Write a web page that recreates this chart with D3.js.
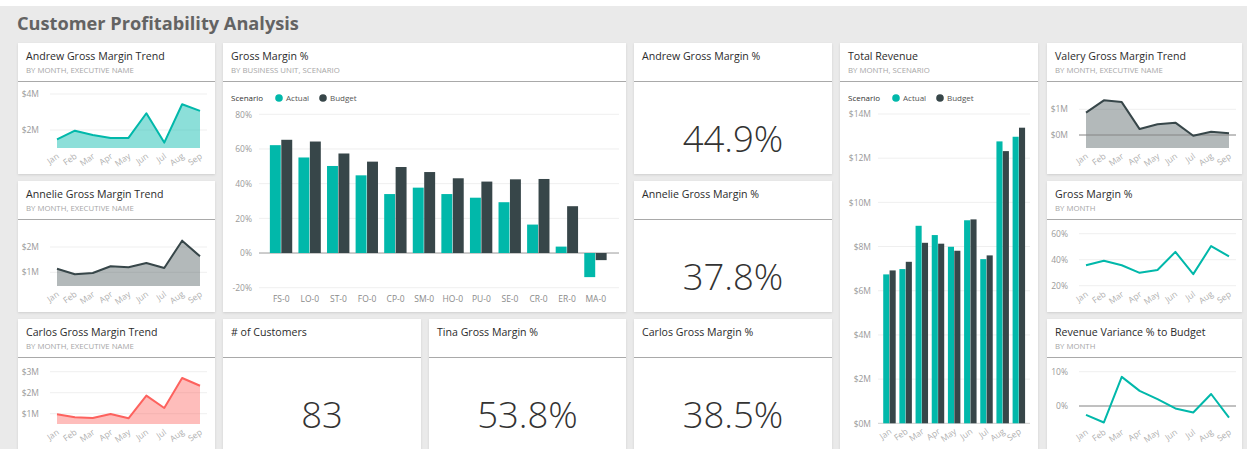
<!DOCTYPE html>
<html>
<head>
<meta charset="utf-8">
<script src="https://cdn.jsdelivr.net/npm/d3@7"></script>
<style>
  body { margin: 0; background: #fff; overflow: hidden; }
  text { font-family: "Open Sans", "Noto Sans", sans-serif; }
</style>
</head>
<body>
<div id="wrapper"></div>
<script>
// data
const months = ["Jan", "Feb", "Mar", "Apr", "May", "Jun", "Jul", "Aug", "Sep"]

// gross margin trend per executive, $M
const andrewGM = [1.48, 1.96, 1.72, 1.56, 1.56, 2.93, 1.30, 3.43, 3.06]
const annelieGM = [1.14, 0.92, 0.97, 1.24, 1.20, 1.37, 1.17, 2.25, 1.63]
const carlosGM = [0.97, 0.83, 0.80, 0.99, 0.78, 1.86, 1.27, 2.70, 2.33]
const valeryGM = [0.87, 1.35, 1.28, 0.23, 0.42, 0.48, -0.03, 0.13, 0.07]

// gross margin % by business unit
const units = ["FS-0", "LO-0", "ST-0", "FO-0", "CP-0", "SM-0", "HO-0", "PU-0", "SE-0", "CR-0", "ER-0", "MA-0"]
const unitActual = [62.2, 55.1, 50.2, 44.8, 34.0, 37.7, 34.0, 31.9, 29.3, 16.4, 3.7, -13.9]
const unitBudget = [65.3, 64.3, 57.4, 52.7, 49.6, 46.7, 43.1, 41.2, 42.5, 42.7, 27.0, -4.1]

// total revenue by month, $M
const revActual = [6.74, 6.98, 8.94, 8.52, 7.99, 9.19, 7.43, 12.76, 12.97]
const revBudget = [6.92, 7.31, 8.17, 8.13, 7.81, 9.23, 7.60, 12.32, 13.38]

// by month
const gmByMonth = [35.7, 39.2, 35.7, 29.9, 32.1, 46.0, 28.9, 50.5, 42.5]
const revVariance = [-2.6, -4.8, 8.5, 4.4, 2.0, -0.7, -1.9, 3.5, -3.4]

// cards
const kpiTitles = ["Andrew Gross Margin %", "Annelie Gross Margin %", "Carlos Gross Margin %", "# of Customers", "Tina Gross Margin %"]
const kpiValues = ["44.9%", "37.8%", "38.5%", "83", "53.8%"]

const scenarios = ["Actual", "Budget"]

const teal = "#01B8AA"
const dark = "#374649"
const red = "#FD625E"

const wrapper = d3.select("#wrapper").append("svg")
  .attr("width", 1247)
  .attr("height", 449)

const defs = wrapper.append("defs")
const shadow = defs.append("filter").attr("id", "shadow")
  .attr("x", "-5%").attr("y", "-5%").attr("width", "110%").attr("height", "110%")
shadow.append("feDropShadow")
  .attr("dx", 0).attr("dy", 1).attr("stdDeviation", 1)
  .attr("flood-color", "#000").attr("flood-opacity", 0.12)

wrapper.append("rect").attr("width", 1247).attr("height", 449).attr("fill", "#fff")
wrapper.append("rect").attr("x", 0).attr("y", 6).attr("width", 1247).attr("height", 443).attr("fill", "#eaeaea")

wrapper.append("text")
  .attr("x", 17).attr("y", 30)
  .attr("font-family", "Roboto")
  .attr("font-size", 18.2)
  .attr("font-weight", 700)
  .attr("fill", "#636363")
  .text("Customer Profitability Analysis")

// white card with header + separator line
function tile(x, y, w, h, title, sub) {
  const g = wrapper.append("g")
  g.append("rect")
    .attr("x", x).attr("y", y).attr("width", w).attr("height", h)
    .attr("fill", "#fff")
    .style("filter", "url(#shadow)")
  g.append("text")
    .attr("x", x + 8).attr("y", y + 17)
    .attr("font-size", 10.6)
    .attr("fill", "#2b2b2b")
    .text(title)
  if (sub) {
    g.append("text")
      .attr("x", x + 8).attr("y", y + 30)
      .attr("font-size", 7.8)
      .attr("fill", "#a6a6a6")
      .text(sub)
  }
  g.append("line")
    .attr("x1", x).attr("x2", x + w)
    .attr("y1", y + 38.5).attr("y2", y + 38.5)
    .attr("stroke", "#a9a9a9")
  return g
}

function monthLabels(g, xScale, y) {
  g.selectAll(null).data(months).join("text")
    .attr("transform", d => `translate(${xScale(d) + 1},${y}) rotate(-35)`)
    .attr("text-anchor", "end")
    .attr("dy", "0.35em")
    .attr("font-size", 8.5)
    .attr("fill", "#b0b0b0")
    .text(d => d)
}

// small line / area trend cards
function trendTile(cfg) {
  const {x, y, values} = cfg
  const g = tile(x, y, cfg.w, 131, cfg.title, cfg.sub)
  const bottom = y + 105

  const xScale = d3.scalePoint().domain(months).range([x + 39, x + 182])
  const yScale = d3.scaleLinear().domain(cfg.ref).range(cfg.refY.map(r => y + r))

  g.selectAll(null).data(cfg.ticks).join("line")
    .attr("x1", x + 32).attr("x2", x + 189)
    .attr("y1", d => yScale(d)).attr("y2", d => yScale(d))
    .attr("stroke", "#efefef")

  g.selectAll(null).data(cfg.ticks).join("text")
    .attr("x", x + 21).attr("y", d => yScale(d))
    .attr("dy", "0.35em")
    .attr("text-anchor", "end")
    .attr("font-size", 8.5)
    .attr("fill", "#9a9a9a")
    .text(cfg.fmt)

  const pts = months.map((m, i) => ({m, v: values[i]}))

  if (cfg.area) {
    const areaGenerator = d3.area()
      .x(d => xScale(d.m))
      .y0(bottom)
      .y1(d => yScale(d.v))
    g.append("path")
      .attr("d", areaGenerator(pts))
      .attr("fill", cfg.color)
      .attr("fill-opacity", cfg.fillOpacity)
  }

  if (cfg.zero) {
    g.append("line")
      .attr("x1", x + 32).attr("x2", x + 189)
      .attr("y1", yScale(0)).attr("y2", yScale(0))
      .attr("stroke", "#8a8a8a")
  }

  const lineGenerator = d3.line()
    .x(d => xScale(d.m))
    .y(d => yScale(d.v))
  g.append("path")
    .attr("d", lineGenerator(pts))
    .attr("fill", "none")
    .attr("stroke", cfg.color)
    .attr("stroke-width", 2)
    .attr("stroke-linejoin", "round")

  monthLabels(g, xScale, bottom + 7)
}

const money = d => `$${d}M`
const pct = d => `${d}%`

trendTile({x: 18, y: 43, w: 197, title: "Andrew Gross Margin Trend", sub: "BY MONTH, EXECUTIVE NAME",
  values: andrewGM, ref: [2, 4], refY: [87, 51], ticks: [2, 4], fmt: money, color: teal, area: true, fillOpacity: 0.45})
trendTile({x: 18, y: 181, w: 197, title: "Annelie Gross Margin Trend", sub: "BY MONTH, EXECUTIVE NAME",
  values: annelieGM, ref: [1, 2], refY: [91.3, 66], ticks: [1, 2], fmt: money, color: dark, area: true, fillOpacity: 0.38})
trendTile({x: 18, y: 319, w: 197, title: "Carlos Gross Margin Trend", sub: "BY MONTH, EXECUTIVE NAME",
  values: carlosGM, ref: [1, 3], refY: [94.7, 52.7], ticks: [1, 2, 3], fmt: money, color: red, area: true, fillOpacity: 0.42})
trendTile({x: 1047, y: 43, w: 195, title: "Valery Gross Margin Trend", sub: "BY MONTH, EXECUTIVE NAME",
  values: valeryGM, ref: [0, 1], refY: [92, 66.3], ticks: [0, 1], fmt: money, color: dark, area: true, fillOpacity: 0.38, zero: true})
trendTile({x: 1047, y: 181, w: 195, title: "Gross Margin %", sub: "BY MONTH",
  values: gmByMonth, ref: [20, 60], refY: [104.7, 52.7], ticks: [20, 40, 60], fmt: pct, color: teal})
trendTile({x: 1047, y: 319, w: 195, title: "Revenue Variance % to Budget", sub: "BY MONTH",
  values: revVariance, ref: [0, 10], refY: [87, 52.7], ticks: [0, 10], fmt: pct, color: teal, zero: true})

// legend used by both clustered column charts
function legend(g, x, y) {
  g.append("text").attr("x", x).attr("y", y).attr("dy", "0.35em")
    .attr("font-size", 8).attr("fill", "#333").text("Scenario")
  const items = g.selectAll(null).data(scenarios).join("g")
    .attr("transform", (d, i) => `translate(${x + 48 + i * 44},${y})`)
  items.append("circle").attr("r", 3.8).attr("fill", (d, i) => i ? dark : teal)
  items.append("text").attr("x", 7).attr("dy", "0.35em")
    .attr("font-size", 8).attr("fill", "#555").text(d => d)
}

// Gross Margin % by business unit
{
  const x = 223, y = 43, w = 403
  const g = tile(x, y, w, 269, "Gross Margin %", "BY BUSINESS UNIT, SCENARIO")
  legend(g, x + 8, y + 55)

  const yScale = d3.scaleLinear().domain([-20, 80]).range([y + 244.7, y + 71.3])
  const x0 = d3.scaleBand().domain(units).range([x + 44, x + 387]).paddingInner(0.2).paddingOuter(0.1)
  const x1 = d3.scaleBand().domain(scenarios).range([0, x0.bandwidth()])
  const ticks = [-20, 0, 20, 40, 60, 80]

  g.selectAll(null).data(ticks).join("line")
    .attr("x1", x + 36).attr("x2", x + 396)
    .attr("y1", d => yScale(d)).attr("y2", d => yScale(d))
    .attr("stroke", d => d === 0 ? "#9a9a9a" : "#efefef")

  const yAxis = g.append("g")
    .attr("transform", `translate(${x + 29},0)`)
    .call(d3.axisLeft(yScale).tickValues(ticks).tickFormat(pct).tickSize(0).tickPadding(0))
  yAxis.select(".domain").remove()
  yAxis.selectAll("text").attr("font-size", 8.5).attr("fill", "#9a9a9a").attr("font-family", "Open Sans")

  const rows = units.map((u, i) => ({u, vals: [unitActual[i], unitBudget[i]]}))
  const groups = g.selectAll(null).data(rows).join("g")
    .attr("transform", d => `translate(${x0(d.u)},0)`)
  groups.selectAll("rect").data(d => d.vals.map((v, i) => ({s: scenarios[i], v}))).join("rect")
    .attr("x", d => x1(d.s))
    .attr("width", x1.bandwidth() - 0.5)
    .attr("y", d => yScale(Math.max(0, d.v)))
    .attr("height", d => Math.abs(yScale(d.v) - yScale(0)))
    .attr("fill", d => d.s === "Actual" ? teal : dark)

  const xAxis = g.append("g")
    .attr("transform", `translate(0,${y + 245})`)
    .call(d3.axisBottom(x0).tickSize(0).tickPadding(8))
  xAxis.select(".domain").remove()
  xAxis.selectAll("text").attr("font-size", 8.5).attr("fill", "#8a8a8a").attr("font-family", "Open Sans")
}

// Total Revenue by month
{
  const x = 840, y = 43, w = 198
  const g = tile(x, y, w, 420, "Total Revenue", "BY MONTH, SCENARIO")
  legend(g, x + 8, y + 55)

  const yScale = d3.scaleLinear().domain([0, 14]).range([y + 380.3, y + 71])
  const x0 = d3.scaleBand().domain(months).range([x + 41.6, x + 187]).paddingInner(0.21).paddingOuter(0.1)
  const x1 = d3.scaleBand().domain(scenarios).range([0, x0.bandwidth()])
  const ticks = [0, 2, 4, 6, 8, 10, 12, 14]

  g.selectAll(null).data(ticks).join("line")
    .attr("x1", x + 38).attr("x2", x + 190)
    .attr("y1", d => yScale(d)).attr("y2", d => yScale(d))
    .attr("stroke", d => d === 0 ? "#cfcfcf" : "#efefef")

  const yAxis = g.append("g")
    .attr("transform", `translate(${x + 31},0)`)
    .call(d3.axisLeft(yScale).tickValues(ticks).tickFormat(money).tickSize(0).tickPadding(0))
  yAxis.select(".domain").remove()
  yAxis.selectAll("text").attr("font-size", 8.5).attr("fill", "#9a9a9a").attr("font-family", "Open Sans")

  const rows = months.map((m, i) => ({m, vals: [revActual[i], revBudget[i]]}))
  const groups = g.selectAll(null).data(rows).join("g")
    .attr("transform", d => `translate(${x0(d.m)},0)`)
  groups.selectAll("rect").data(d => d.vals.map((v, i) => ({s: scenarios[i], v}))).join("rect")
    .attr("x", d => x1(d.s))
    .attr("width", x1.bandwidth() - 0.3)
    .attr("y", d => yScale(d.v))
    .attr("height", d => yScale(0) - yScale(d.v))
    .attr("fill", d => d.s === "Actual" ? teal : dark)

  const centers = d3.scalePoint().domain(months).range([x0(months[0]) + x0.bandwidth() / 2, x0(months[8]) + x0.bandwidth() / 2])
  monthLabels(g, centers, yScale(0) + 7)
}

// big number cards
const cardPos = [
  {x: 634, y: 43, w: 198},
  {x: 634, y: 181, w: 198},
  {x: 634, y: 319, w: 198},
  {x: 223, y: 319, w: 198},
  {x: 429, y: 319, w: 197},
]
kpiTitles.forEach((t, i) => {
  const p = cardPos[i]
  const g = tile(p.x, p.y, p.w, i < 2 ? 131 : 140, t)
  g.append("text")
    .attr("x", p.x + p.w / 2).attr("y", p.y + 108.5)
    .attr("text-anchor", "middle")
    .attr("font-family", "Roboto")
    .attr("font-weight", 300)
    .attr("font-size", 36.5)
    .attr("fill", "#333")
    .text(kpiValues[i])
})
</script>
</body>
</html>
